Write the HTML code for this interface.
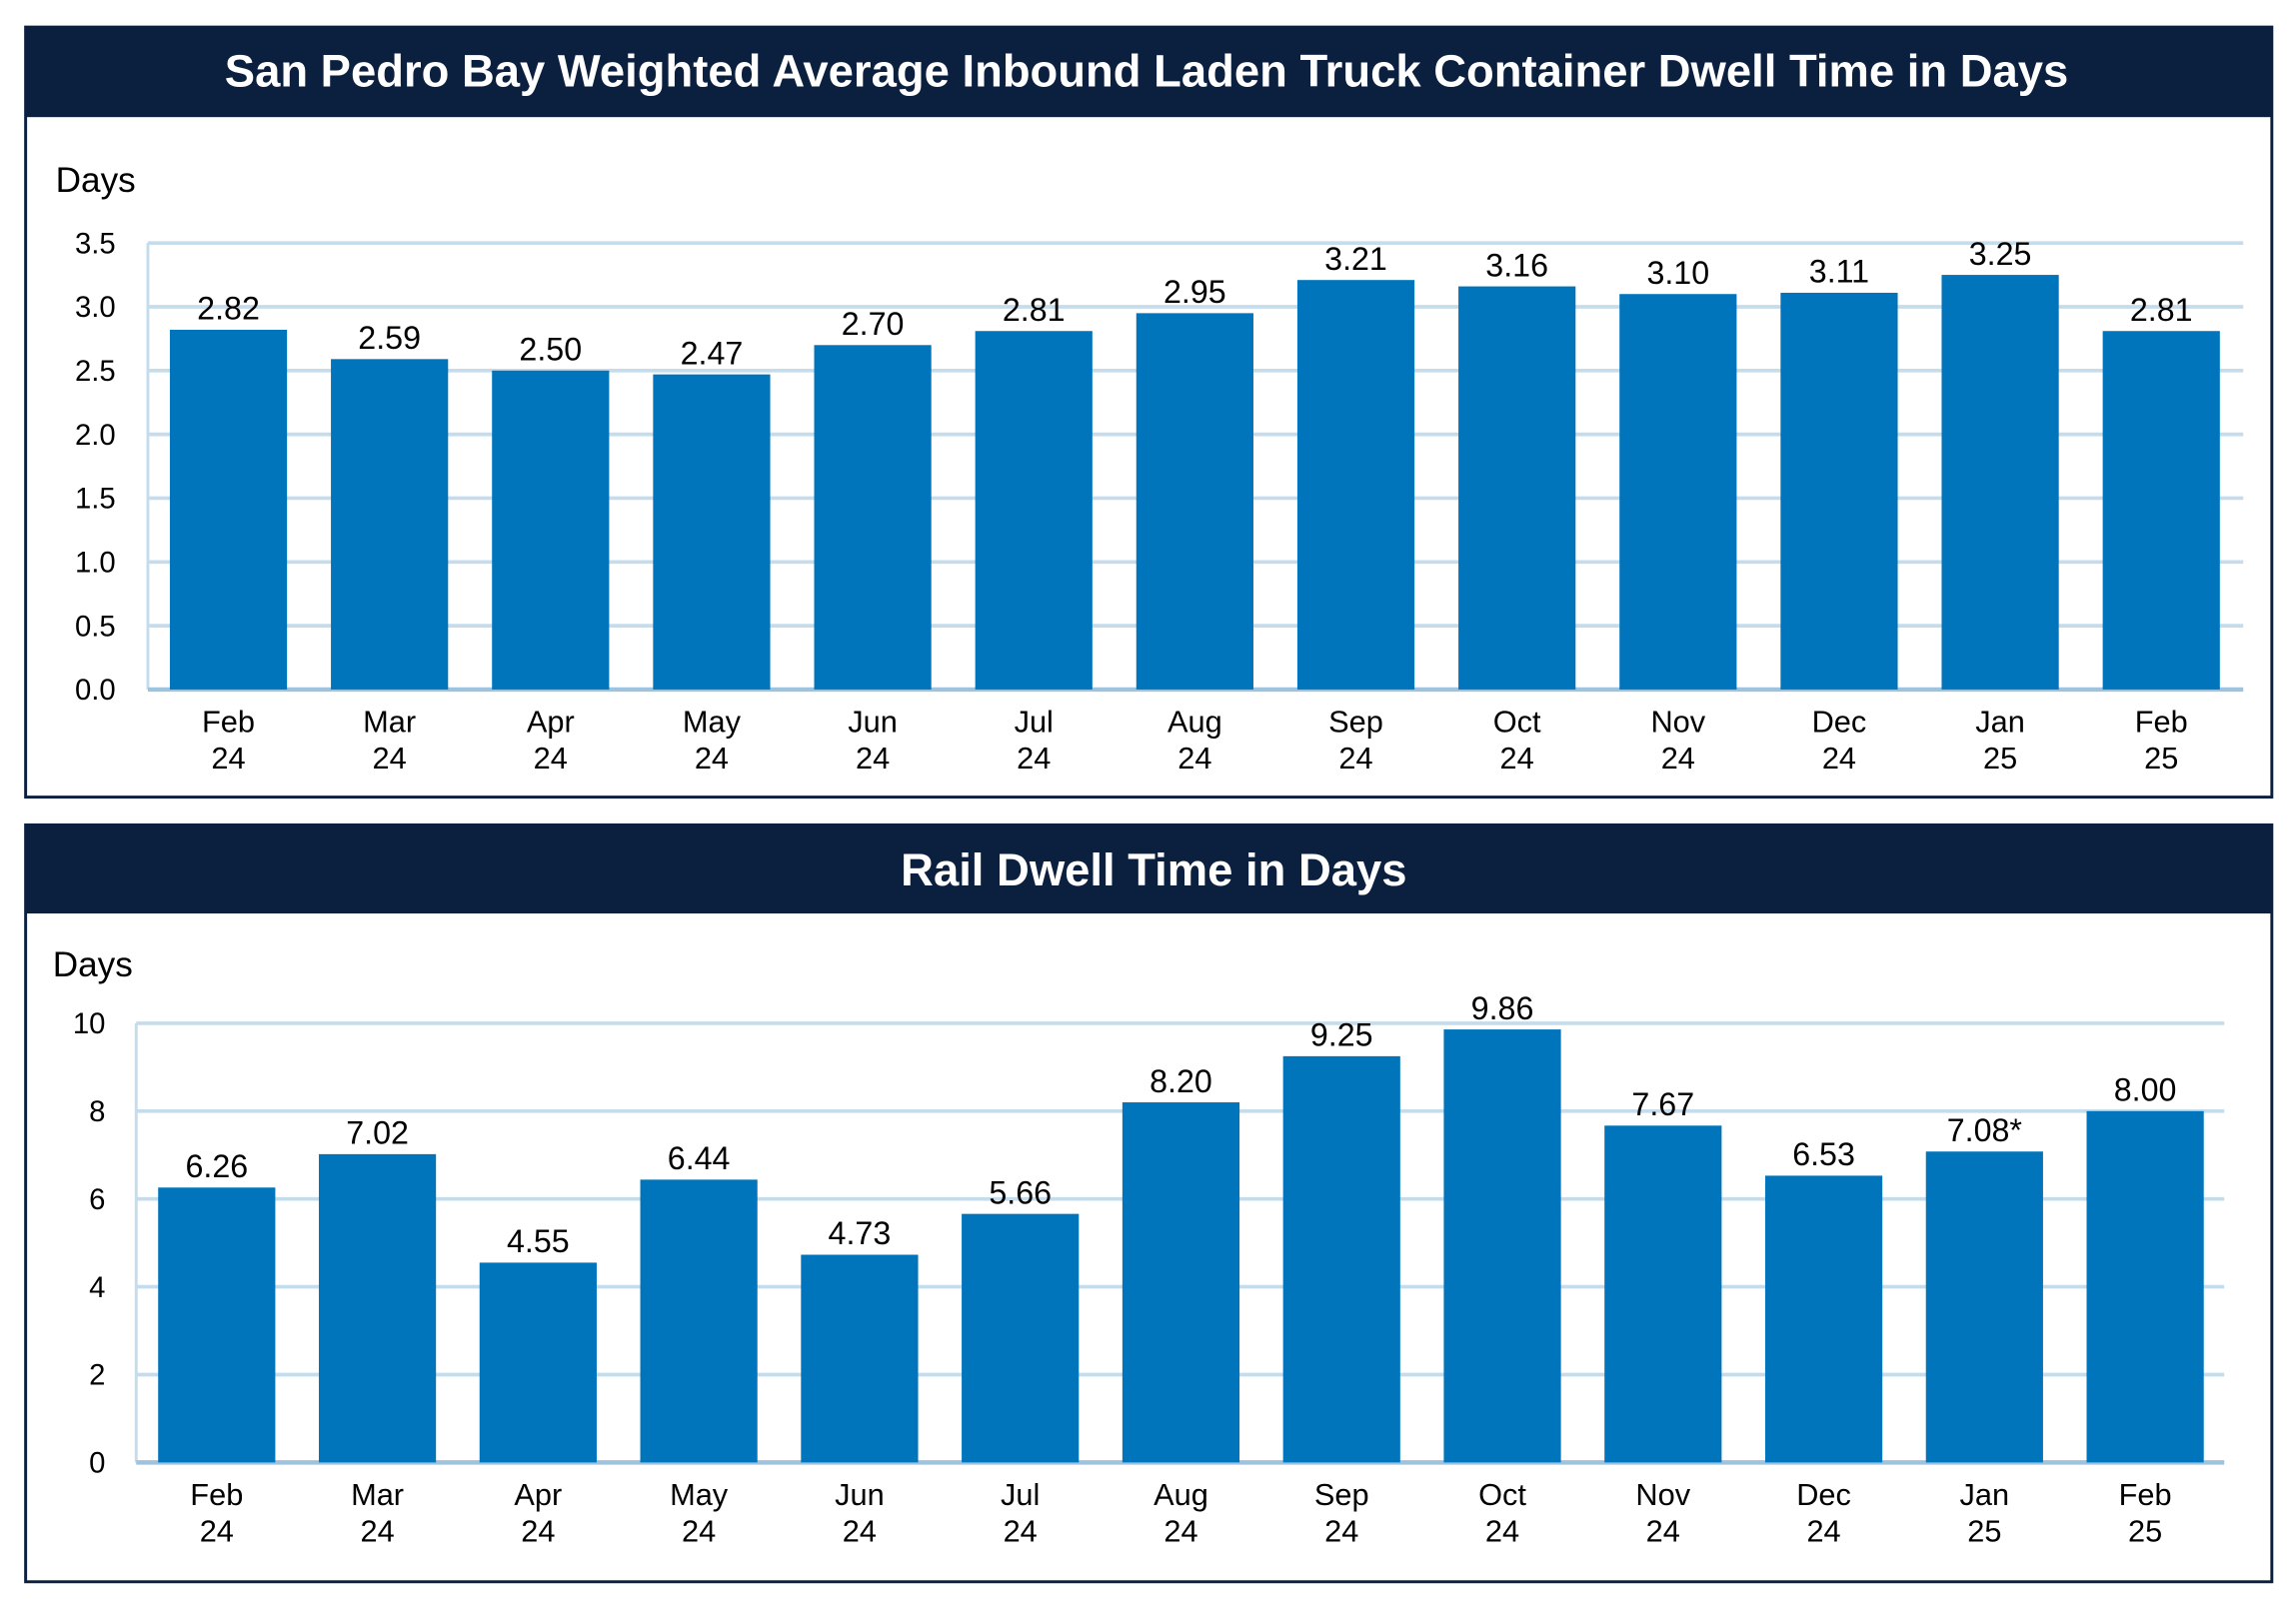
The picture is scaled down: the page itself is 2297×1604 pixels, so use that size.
<!DOCTYPE html>
<html><head><meta charset="utf-8"><style>
html,body{margin:0;padding:0;background:#fff}
svg{display:block;font-family:"Liberation Sans",sans-serif}
</style></head><body>
<svg id="svg" width="2297" height="1604" viewBox="0 0 1568 1095" preserveAspectRatio="none" xmlns="http://www.w3.org/2000/svg">
<g>
<rect x="17.5" y="18.5" width="1534" height="526" fill="#fff" stroke="#0b1f3f" stroke-width="2"/>
<rect x="17" y="18" width="1535" height="62" fill="#0b1f3f"/>
<text x="783" y="59" text-anchor="middle" fill="#fff" font-size="31" font-weight="bold">San Pedro Bay Weighted Average Inbound Laden Truck Container Dwell Time in Days</text>
<text x="38" y="131" font-size="24" fill="#000">Days</text>
<g id="g1"></g>
</g>
<g>
<rect x="17.5" y="563.5" width="1534" height="517" fill="#fff" stroke="#0b1f3f" stroke-width="2"/>
<rect x="17" y="563" width="1535" height="61" fill="#0b1f3f"/>
<text x="788" y="605" text-anchor="middle" fill="#fff" font-size="31" font-weight="bold">Rail Dwell Time in Days</text>
<text x="36" y="667" font-size="24" fill="#000">Days</text>
<g id="g2"></g>
</g>
</svg>
<script>
const months = ["Feb","Mar","Apr","May","Jun","Jul","Aug","Sep","Oct","Nov","Dec","Jan","Feb"];
const years = ["24","24","24","24","24","24","24","24","24","24","24","25","25"];
const truckValues = [2.82,2.59,2.50,2.47,2.70,2.81,2.95,3.21,3.16,3.10,3.11,3.25,2.81];
const truckLabels = ["2.82","2.59","2.50","2.47","2.70","2.81","2.95","3.21","3.16","3.10","3.11","3.25","2.81"];
const truckTicks = [0,0.5,1,1.5,2,2.5,3,3.5];
const truckTickLabels = ["0.0","0.5","1.0","1.5","2.0","2.5","3.0","3.5"];
const railValues = [6.26,7.02,4.55,6.44,4.73,5.66,8.20,9.25,9.86,7.67,6.53,7.08,8.00];
const railLabels = ["6.26","7.02","4.55","6.44","4.73","5.66","8.20","9.25","9.86","7.67","6.53","7.08*","8.00"];
const railTicks = [0,2,4,6,8,10];
const railTickLabels = ["0","2","4","6","8","10"];
const NS="http://www.w3.org/2000/svg";
function mk(parent,tag,attrs,text){const e=document.createElementNS(NS,tag);for(const k in attrs)e.setAttribute(k,attrs[k]);if(text!==undefined)e.textContent=text;parent.appendChild(e);return e;}
function draw(g,cfg,vals,labels,ticks,tickLabels,prefix){
  const y=v=>cfg.y0-(v-cfg.min)/(cfg.max-cfg.min)*(cfg.y0-cfg.yTop);
  const x=i=>cfg.c0+i*cfg.step;
  mk(g,'line',{x1:cfg.xL,x2:cfg.xL,y1:cfg.yTop,y2:cfg.y0,stroke:'#c5dcec','stroke-width':2});
  ticks.forEach((t,i)=>{
    const l=mk(g,'line',{x1:cfg.xL,x2:cfg.xR,y1:y(t),y2:y(t),stroke:i===0?'#9ec3df':'#c5dcec','stroke-width':i===0?3:2.5});
    
    
    const tx=mk(g,'text',{x:cfg.tickX,y:y(t)+7,'text-anchor':'end','font-size':20,fill:'#000'},tickLabels[i]);
    
    
  });
  vals.forEach((v,i)=>{
    const r=mk(g,'rect',{x:x(i)-cfg.bw/2,y:y(v),width:cfg.bw,height:cfg.y0-y(v),fill:'#0075bb'});
    
    
    const t=mk(g,'text',{x:x(i),y:y(v)-7,'text-anchor':'middle','font-size':22,fill:'#000'},labels[i]);
    
    
    const m=mk(g,'text',{x:x(i),y:cfg.y0+29,'text-anchor':'middle','font-size':21,fill:'#000'},months[i]);
    
    
    const yr=mk(g,'text',{x:x(i),y:cfg.y0+54,'text-anchor':'middle','font-size':21,fill:'#000'},years[i]);
    
    
  });
}
draw(document.getElementById('g1'),{min:0,max:3.5,y0:471,yTop:166,xL:101,xR:1532,c0:156,step:110,bw:80,tickX:79},truckValues,truckLabels,truckTicks,truckTickLabels,'truck');
draw(document.getElementById('g2'),{min:0,max:10,y0:999,yTop:699,xL:93,xR:1519,c0:148,step:109.75,bw:80,tickX:72},railValues,railLabels,railTicks,railTickLabels,'rail');
</script>
</body></html>
